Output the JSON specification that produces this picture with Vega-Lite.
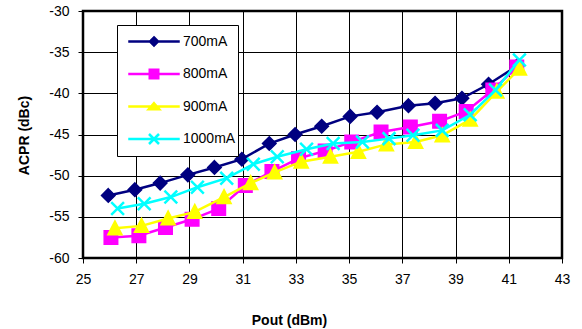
{
  "$schema": "https://vega.github.io/schema/vega-lite/v6.json",
  "width": 479,
  "height": 247,
  "autosize": "none",
  "padding": {"left": 83, "top": 11, "right": 20, "bottom": 71},
  "background": "white",
  "config": {
    "view": {"stroke": "#000", "strokeWidth": 2.5},
    "font": "Liberation Sans"
  },
  "datasets": {
    "acpr": [
      {"series": "700mA", "pout": 25.95, "acpr": -52.4},
      {"series": "700mA", "pout": 26.95, "acpr": -51.7},
      {"series": "700mA", "pout": 27.9, "acpr": -50.9},
      {"series": "700mA", "pout": 28.94, "acpr": -49.9},
      {"series": "700mA", "pout": 29.94, "acpr": -49.0},
      {"series": "700mA", "pout": 30.97, "acpr": -48.0},
      {"series": "700mA", "pout": 32.0, "acpr": -46.1},
      {"series": "700mA", "pout": 32.97, "acpr": -45.0},
      {"series": "700mA", "pout": 33.97, "acpr": -44.0},
      {"series": "700mA", "pout": 35.04, "acpr": -42.8},
      {"series": "700mA", "pout": 36.05, "acpr": -42.3},
      {"series": "700mA", "pout": 37.23, "acpr": -41.5},
      {"series": "700mA", "pout": 38.23, "acpr": -41.2},
      {"series": "700mA", "pout": 39.24, "acpr": -40.6},
      {"series": "700mA", "pout": 40.24, "acpr": -38.9},
      {"series": "700mA", "pout": 41.3, "acpr": -36.7},
      {"series": "800mA", "pout": 26.05, "acpr": -57.5},
      {"series": "800mA", "pout": 27.1, "acpr": -57.3},
      {"series": "800mA", "pout": 28.1, "acpr": -56.3},
      {"series": "800mA", "pout": 29.1, "acpr": -55.3},
      {"series": "800mA", "pout": 30.1, "acpr": -54.0},
      {"series": "800mA", "pout": 31.1, "acpr": -51.2},
      {"series": "800mA", "pout": 32.1, "acpr": -49.5},
      {"series": "800mA", "pout": 33.1, "acpr": -47.9},
      {"series": "800mA", "pout": 34.1, "acpr": -47.0},
      {"series": "800mA", "pout": 35.1, "acpr": -45.9},
      {"series": "800mA", "pout": 36.2, "acpr": -44.7},
      {"series": "800mA", "pout": 37.3, "acpr": -44.1},
      {"series": "800mA", "pout": 38.4, "acpr": -43.4},
      {"series": "800mA", "pout": 39.4, "acpr": -42.2},
      {"series": "800mA", "pout": 40.4, "acpr": -39.6},
      {"series": "800mA", "pout": 41.3, "acpr": -36.8},
      {"series": "900mA", "pout": 26.2, "acpr": -56.4},
      {"series": "900mA", "pout": 27.2, "acpr": -56.1},
      {"series": "900mA", "pout": 28.2, "acpr": -55.2},
      {"series": "900mA", "pout": 29.2, "acpr": -54.4},
      {"series": "900mA", "pout": 30.3, "acpr": -52.6},
      {"series": "900mA", "pout": 31.3, "acpr": -50.9},
      {"series": "900mA", "pout": 32.2, "acpr": -49.6},
      {"series": "900mA", "pout": 33.2, "acpr": -48.3},
      {"series": "900mA", "pout": 34.3, "acpr": -47.7},
      {"series": "900mA", "pout": 35.35, "acpr": -47.1},
      {"series": "900mA", "pout": 36.4, "acpr": -46.2},
      {"series": "900mA", "pout": 37.5, "acpr": -45.9},
      {"series": "900mA", "pout": 38.5, "acpr": -45.1},
      {"series": "900mA", "pout": 39.55, "acpr": -43.2},
      {"series": "900mA", "pout": 40.55, "acpr": -39.8},
      {"series": "900mA", "pout": 41.4, "acpr": -37.0},
      {"series": "1000mA", "pout": 26.3, "acpr": -54.0},
      {"series": "1000mA", "pout": 27.3, "acpr": -53.4},
      {"series": "1000mA", "pout": 28.3, "acpr": -52.6},
      {"series": "1000mA", "pout": 29.3, "acpr": -51.4},
      {"series": "1000mA", "pout": 30.4, "acpr": -50.3},
      {"series": "1000mA", "pout": 31.4, "acpr": -48.6},
      {"series": "1000mA", "pout": 32.3, "acpr": -47.7},
      {"series": "1000mA", "pout": 33.4, "acpr": -46.8},
      {"series": "1000mA", "pout": 34.4, "acpr": -46.1},
      {"series": "1000mA", "pout": 35.5, "acpr": -45.9},
      {"series": "1000mA", "pout": 36.5, "acpr": -45.5},
      {"series": "1000mA", "pout": 37.4, "acpr": -45.1},
      {"series": "1000mA", "pout": 38.5, "acpr": -44.5},
      {"series": "1000mA", "pout": 39.55, "acpr": -42.6},
      {"series": "1000mA", "pout": 40.5, "acpr": -39.6},
      {"series": "1000mA", "pout": 41.4, "acpr": -35.95}
    ]
  },
  "data": {"name": "acpr"},
  "encoding": {
    "x": {
      "field": "pout", "type": "quantitative",
      "scale": {"domain": [25, 43], "nice": false, "zero": false},
      "axis": {
        "values": [25, 27, 29, 31, 33, 35, 37, 39, 41, 43],
        "labelExpr": "'' + datum.value",
        "title": "Pout (dBm)",
        "grid": true, "gridColor": "#000", "gridWidth": 1, "gridOpacity": 1,
        "domain": false,
        "ticks": true, "tickColor": "#000", "tickSize": 5, "tickWidth": 1,
        "labelFont": "Liberation Sans", "labelFontSize": 14, "labelColor": "#000",
        "labelPadding": 9, "labelFlush": false, "labelOverlap": false,
        "titleFont": "Liberation Sans", "titleFontSize": 14, "titleFontWeight": "bold", "titleColor": "#000",
        "titleX": 206, "titleY": 62, "titleBaseline": "middle", "titleAlign": "center"
      }
    },
    "y": {
      "field": "acpr", "type": "quantitative",
      "scale": {"domain": [-60, -30], "nice": false, "zero": false},
      "axis": {
        "values": [-60, -55, -50, -45, -40, -35, -30],
        "labelExpr": "'' + datum.value",
        "title": "ACPR (dBc)",
        "grid": true, "gridColor": "#000", "gridWidth": 1, "gridOpacity": 1,
        "domain": false,
        "ticks": true, "tickColor": "#000", "tickSize": 5, "tickWidth": 1,
        "labelFont": "Liberation Sans", "labelFontSize": 14, "labelColor": "#000",
        "labelPadding": 9, "labelFlush": false, "labelOverlap": false,
        "titleFont": "Liberation Sans", "titleFontSize": 14, "titleFontWeight": "bold", "titleColor": "#000",
        "titleX": -59, "titleY": 124, "titleBaseline": "middle", "titleAlign": "center", "titleAngle": -90
      }
    },
    "color": {
      "field": "series", "type": "nominal",
      "scale": {"domain": ["700mA", "800mA", "900mA", "1000mA"], "range": ["#000080", "#FF00FF", "#FFFF00", "#00FFFF"]},
      "legend": {
        "title": null,
        "orient": "none", "legendX": 34, "legendY": 14,
        "padding": 2,
        "fillColor": "#fff", "strokeColor": "#000",
        "labelFont": "Liberation Sans", "labelFontSize": 14, "labelColor": "#000",
        "symbolSize": 625, "symbolStrokeWidth": 2.5, "symbolOpacity": 1,
        "clipHeight": 29, "rowPadding": 3.5,
        "symbolOffset": 21, "labelOffset": 15,
        "encode": {
          "symbols": {
            "update": {
              "shape": {"signal": "datum.value === '700mA' ? 'M-2.06,0H2.06M0,-0.32L0.32,0L0,0.32L-0.32,0Z' : datum.value === '800mA' ? 'M-2.06,0H2.06M-0.34,-0.34H0.34V0.34H-0.34Z' : datum.value === '900mA' ? 'M-2.06,0H2.06M0,-0.26L0.42,0.22L-0.42,0.22Z' : 'M-2.06,0H2.06M-0.4,-0.4L0.4,0.4M-0.4,0.4L0.4,-0.4'"},
              "fill": {"signal": "scale('color', datum.value)"},
              "stroke": {"signal": "scale('color', datum.value)"}
            }
          }
        }
      }
    }
  },
  "layer": [
    {
      "transform": [{"filter": "datum.series === '700mA'"}],
      "layer": [
        {"mark": {"type": "line", "strokeWidth": 2.5}},
        {"mark": {"type": "point", "shape": "M0,-0.9L0.9,0L0,0.9L-0.9,0Z", "filled": true, "size": 225, "stroke": "#000080", "strokeWidth": 1.5, "opacity": 1}}
      ]
    },
    {
      "transform": [{"filter": "datum.series === '800mA'"}],
      "layer": [
        {"mark": {"type": "line", "strokeWidth": 2.5}},
        {"mark": {"type": "point", "shape": "M-0.9,-0.9H0.9V0.9H-0.9Z", "filled": true, "size": 225, "stroke": "#FF00FF", "strokeWidth": 1.5, "opacity": 1}}
      ]
    },
    {
      "transform": [{"filter": "datum.series === '900mA'"}],
      "layer": [
        {"mark": {"type": "line", "strokeWidth": 2.5}},
        {"mark": {"type": "point", "shape": "M0,-1L0.95,0.85L-0.95,0.85Z", "filled": true, "size": 225, "stroke": "#FFFF00", "strokeWidth": 1.5, "opacity": 1}}
      ]
    },
    {
      "transform": [{"filter": "datum.series === '1000mA'"}],
      "layer": [
        {"mark": {"type": "line", "strokeWidth": 2.5}},
        {"mark": {"type": "point", "shape": "M-0.85,-0.85L0.85,0.85M-0.85,0.85L0.85,-0.85", "filled": true, "size": 225, "stroke": "#00FFFF", "strokeWidth": 2.5, "opacity": 1}}
      ]
    }
  ]
}
